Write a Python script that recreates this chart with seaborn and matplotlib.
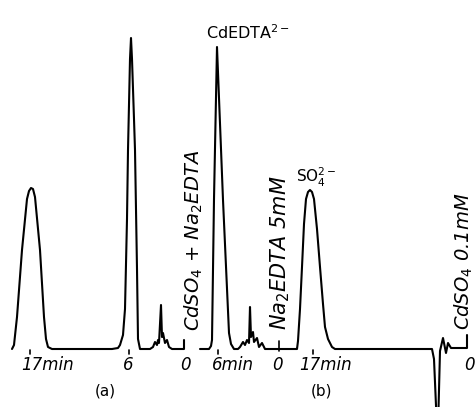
import matplotlib
matplotlib.use("Agg")
import matplotlib.pyplot as plt
import seaborn as sns
import pandas as pd

# Trace (a): position along the paper vs detector signal (baseline = 0)
trace_a_x = [12, 14, 17, 22, 27, 29, 31, 33, 35, 40, 44, 46, 48, 52,
             112, 118, 120, 123, 125, 127, 128, 130, 131, 132, 134, 135, 137, 138, 140,
             150, 153, 155, 157, 158, 159, 161, 162, 163, 165, 167, 169, 172, 184, 184]
trace_a_y = [0, 4, 32, 99, 150, 158, 161, 160, 152, 99, 32, 10, 2, 0,
             0, 1, 4, 14, 40, 130, 199, 290, 311, 290, 230, 199, 80, 10, 0,
             0, 2, 7, 4, 9, 6, 44, 12, 16, 6, 9, 2, 0, 0, 9]

# Trace (b)
trace_b_x = [200, 209, 211, 212, 214, 217, 223, 229, 231, 234,
             238, 240, 243, 245, 247, 249, 250, 251, 253, 254, 257, 259, 262, 265,
             296, 297, 298, 300, 302, 304, 306, 308, 310, 312, 314, 317, 320, 323, 325, 328, 332, 335,
             432, 434, 437, 438, 440, 443, 446, 448, 451, 467, 467]
trace_b_y = [0, 0, 3, 9, 150, 302, 149, 16, 5, 0,
             0, 2, 7, 4, 9, 6, 42, 12, 17, 7, 11, 2, 6, 0,
             0, 0, 8, 40, 82, 125, 150, 157, 159, 157, 150, 120, 82, 45, 22, 10, 2, 0,
             0, -10, -80, -80, -2, 11, -4, 6, 1, 1, 14]

# small time marks on the baseline
tick_x = [30, 129, 218, 313]
zero_tick_x = [279]

# time labels under the traces
time_labels = ["17min", "6", "0", "6min", "0", "17min", "0"]
time_label_x = [47, 128, 185, 233, 277, 325, 469]

panel_labels = ["(a)", "(b)"]
panel_label_x = [105, 322]

df_a = pd.DataFrame({"x": trace_a_x, "y": trace_a_y})
df_b = pd.DataFrame({"x": trace_b_x, "y": trace_b_y})

sns.set_style("white")
plt.rcParams["font.family"] = ["DejaVu Sans"]
plt.rcParams["mathtext.fontset"] = "dejavusans"
plt.rcParams["text.color"] = "black"

fig = plt.figure(figsize=(4.76, 4.07), dpi=100)
ax = fig.add_axes([0, 0, 1, 1])

sns.lineplot(data=df_a, x="x", y="y", sort=False, estimator=None, color="black", linewidth=1.5, ax=ax)
sns.lineplot(data=df_b, x="x", y="y", sort=False, estimator=None, color="black", linewidth=1.5, ax=ax)

for tx in tick_x:
    ax.plot([tx, tx], [-1, -5], color="black", linewidth=1.2)
for tx in zero_tick_x:
    ax.plot([tx, tx], [-2, 8], color="black", linewidth=1.2)

for lab, lx in zip(time_labels, time_label_x):
    ax.text(lx, -16, lab, ha="center", va="center", fontsize=12, style="italic")
for lab, lx in zip(panel_labels, panel_label_x):
    ax.text(lx, -42, lab, ha="center", va="center", fontsize=11)

ax.text(248, 316, r"CdEDTA$^{2-}$", ha="center", va="center", fontsize=11.5)
ax.text(316, 172, r"SO$_4^{2-}$", ha="center", va="center", fontsize=11)

ax.text(194, 18, r"CdSO$_4$ + Na$_2$EDTA", rotation=90, ha="center", va="bottom",
        fontsize=14, style="italic")
ax.text(280, 19, r"Na$_2$EDTA 5mM", rotation=90, ha="center", va="bottom",
        fontsize=15, style="italic")
ax.text(464, 19, r"CdSO$_4$ 0.1mM", rotation=90, ha="center", va="bottom",
        fontsize=14, style="italic")

ax.set_xlim(0, 476)
ax.set_ylim(-58, 349)
ax.axis("off")

fig.savefig("out.png", dpi=100)
